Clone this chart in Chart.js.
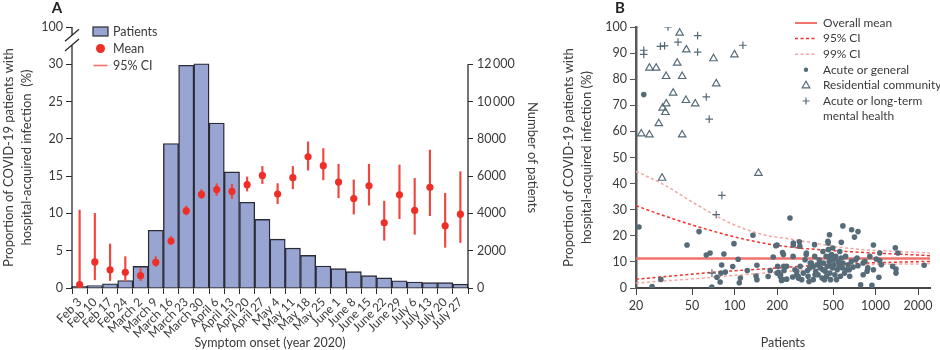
<!DOCTYPE html>
<html>
<head>
<meta charset="utf-8">
<script src="https://cdn.jsdelivr.net/npm/chart.js@4.4.1/dist/chart.umd.min.js"></script>
<style>
  html, body { margin: 0; padding: 0; background: #fff; }
  #wrap { position: relative; width: 940px; height: 350px; }
  .panel { position: absolute; top: 0; height: 350px; }
  #panelA { left: 0; width: 560px; }
  #panelB { left: 560px; width: 380px; }
</style>
</head>
<body>
<div id="wrap">
  <div class="panel" id="panelA"><canvas id="chartA"></canvas></div>
  <div class="panel" id="panelB"><canvas id="chartB"></canvas></div>
</div>
<script>
// ---- panel A data ----
const weeks = ['Feb 3', 'Feb 10', 'Feb 17', 'Feb 24', 'March 2', 'March 9', 'March 16', 'March 23',
  'March 30', 'April 6', 'April 13', 'April 20', 'April 27', 'May 4', 'May 11', 'May 18', 'May 25',
  'June 1', 'June 8', 'June 15', 'June 22', 'June 29', 'July 6', 'July 13', 'July 20', 'July 27'];
const patients = [90, 125, 230, 400, 1160, 3100, 7750, 11950, 12030, 8850, 6230, 4600, 3680, 2620,
  2140, 1750, 1180, 1040, 880, 660, 540, 390, 320, 290, 290, 210];
const meanPct = [0.45, 3.5, 2.45, 2.1, 1.65, 3.45, 6.3, 10.35, 12.55, 13.2, 12.95, 13.85, 15.1, 12.6,
  14.8, 17.6, 16.4, 14.2, 12.0, 13.7, 8.75, 12.5, 10.4, 13.5, 8.35, 9.9];
const ciLow = [0, 1.1, 1.0, 0.9, 1.0, 2.9, 5.8, 9.8, 12.0, 12.4, 12.0, 13.0, 14.0, 11.3, 13.3, 15.8,
  14.5, 12.1, 9.9, 11.1, 6.4, 9.3, 7.2, 9.7, 5.45, 6.1];
const ciHigh = [10.45, 10.0, 5.9, 4.2, 2.6, 4.2, 6.9, 11.0, 13.2, 14.0, 13.9, 14.9, 16.3, 14.0, 16.3,
  19.6, 18.7, 16.6, 14.5, 16.6, 11.65, 16.5, 14.7, 18.5, 12.7, 15.6];
// left axis is broken: the slot above 30 shows 100
const pctTop = 35;
const pctBreak = [32.6, 33.9];
const patientTicksMax = 12000;

// ---- panel B data ----
const overallMean = 11.3;
const ciN = [20, 31.5, 54, 93, 160, 247, 621, 2430];
const ci95Upper = [31.5, 27.7, 23.6, 20.0, 17.2, 15.7, 14.0, 12.4];
const ci95Lower = [3.4, 4.3, 5.5, 6.5, 7.3, 8.0, 9.3, 10.2];
const ci99Upper = [44.7, 39.6, 31.9, 24.9, 20.4, 18.8, 15.3, 13.4];
const ci99Lower = [1.9, 2.7, 3.6, 4.7, 5.7, 6.4, 8.6, 9.3];
const patientTicksB = [20, 50, 100, 200, 500, 1000, 2000];

const acuteGeneral = [[22.7, 74.1], [21, 23.4], [26, 0.6], [30, 3.3], [46, 16.5], [56, 21.6], [63, 12.6],
  [67, 13.4], [69, 0.4], [75, 4.1], [79, 2.3], [80, 5.7], [81, 8.8], [84, 13.0], [86, 6.1], [97, 8.2],
  [99, 17.0], [106, 11.0], [108, 2.0], [110, 3.8], [123, 6.7], [135, 20.2], [142, 4.6], [144, 8.7],
  [144, 3.2], [173, 4.4], [179, 6.7], [188, 11.9], [196, 16.2], [200, 16.5], [200, 5.7], [202, 8.3],
  [205, 6.0], [211, 4.4], [212, 5.1], [215, 2.9], [219, 13.6], [219, 3.2], [222, 12.8], [223, 8.3],
  [224, 6.7], [234, 8.3], [234, 3.4], [247, 26.8], [258, 4.2], [260, 12.1], [261, 17.2], [261, 16.5],
  [268, 7.0], [276, 5.1], [276, 6.4], [283, 3.8], [283, 4.4], [288, 17.7], [290, 16.0], [292, 8.3],
  [299, 3.2], [307, 5.7], [316, 10.8], [322, 12.8], [323, 13.4], [329, 6.7], [332, 4.5], [337, 2.5],
  [341, 7.7], [344, 9.6], [350, 9.6], [361, 3.2], [362, 8.3], [369, 16.6], [370, 12.1], [372, 5.1],
  [376, 6.4], [385, 8.9], [391, 5.1], [398, 10.8], [402, 9.6], [406, 7.7], [417, 3.8], [423, 14.0],
  [423, 7.0], [427, 9.6], [434, 3.2], [439, 6.4], [446, 12.1], [449, 4.5], [454, 8.3], [459, 17.9],
  [461, 17.2], [462, 14.7], [469, 10.2], [471, 20.4], [473, 12.1], [474, 5.7], [479, 3.2], [485, 8.3],
  [487, 12.8], [495, 7.7], [497, 15.3], [500, 10.8], [506, 8.9], [514, 5.1], [522, 12.1], [528, 3.2],
  [534, 7.0], [543, 10.2], [551, 8.3], [557, 14.0], [563, 4.5], [571, 11.5], [571, 17.5], [580, 7.7],
  [586, 9.6], [586, 23.8], [602, 5.7], [612, 12.1], [621, 7.0], [638, 8.9], [650, 7.0], [655, 4.5],
  [673, 10.2], [676, 22.3], [693, 8.0], [708, 19.5], [723, 10.8], [739, 11.5], [750, 21.6], [750, 8.5],
  [783, 1.2], [815, 9.6], [816, 5.1], [839, 10.2], [870, 6.4], [880, 7.7], [910, 12.1], [942, 1.0],
  [965, 16.5], [965, 7.0], [1010, 11.1], [1055, 4.1], [1070, 13.4], [1070, 10.5], [1097, 8.9],
  [1320, 8.3], [1380, 15.4], [1395, 7.3], [1395, 5.7], [1440, 13.4], [2210, 8.7]];
const residential = [[40.8, 97.7], [45.5, 91.3], [39.2, 86.2], [24.9, 84.3], [27.8, 84.3], [70.9, 87.9],
  [99.8, 89.4], [32.7, 81.1], [42.5, 81.1], [74.1, 78.3], [36.7, 74.7], [45.2, 71.9], [52.6, 70.6],
  [32.8, 70.6], [30.9, 69.0], [32.3, 67.3], [29.0, 63.0], [21.8, 59.1], [24.9, 58.7], [42.5, 58.7],
  [30.6, 42.1], [147.6, 44.0]];
const mentalHealth = [[33.7, 100], [54.7, 96.7], [39.7, 94.2], [29.8, 92.6], [31.9, 92.8], [114.6, 93.0],
  [54.7, 90.4], [22.7, 91.1], [22.7, 89.5], [63.0, 73.2], [66.1, 64.7], [81.3, 35.5], [74.1, 28.1],
  [69.1, 5.7]];

const ink = '#3a3a3a';
const barFill = '#98a5d3';
const meanRed = '#ee2f27';
const ciRed = '#f0463f';
const slate = '#566b78';
const fontFamily = 'Lato, sans-serif';

Chart.defaults.font.family = fontFamily;
Chart.defaults.font.size = 12;
Chart.defaults.color = ink;

const toXY = arr => arr.map(p => ({ x: p[0], y: p[1] }));
const curve = vals => ciN.map((n, i) => ({ x: n, y: vals[i] }));
const thousands = v => (v >= 10000 ? String(v).replace(/(\d{3})$/, '\u2009$1') : String(v));

function drawLegend(ctx, items, symX, textX, y0, step, size) {
  ctx.save();
  ctx.font = size + 'px ' + fontFamily;
  ctx.textBaseline = 'middle';
  items.forEach((it, i) => {
    const cy = y0 + i * step;
    ctx.setLineDash([]);
    if (it.kind === 'rect') {
      ctx.fillStyle = barFill;
      ctx.fillRect(symX - 7.5, cy - 4.5, 15, 9);
      ctx.strokeStyle = '#2b2b35';
      ctx.lineWidth = 1.2;
      ctx.strokeRect(symX - 7.5, cy - 4.5, 15, 9);
    } else if (it.kind === 'dot') {
      ctx.fillStyle = it.color;
      ctx.beginPath();
      ctx.arc(symX, cy, it.r, 0, Math.PI * 2);
      ctx.fill();
    } else if (it.kind === 'line') {
      ctx.strokeStyle = it.color;
      ctx.lineWidth = it.width;
      if (it.dash) ctx.setLineDash(it.dash);
      ctx.beginPath();
      ctx.moveTo(symX - it.len / 2, cy);
      ctx.lineTo(symX + it.len / 2, cy);
      ctx.stroke();
    } else if (it.kind === 'triangle') {
      ctx.strokeStyle = slate;
      ctx.lineWidth = 1.2;
      ctx.beginPath();
      ctx.moveTo(symX, cy - 4.2);
      ctx.lineTo(symX + 3.8, cy + 2.4);
      ctx.lineTo(symX - 3.8, cy + 2.4);
      ctx.closePath();
      ctx.stroke();
    } else if (it.kind === 'cross') {
      ctx.strokeStyle = slate;
      ctx.lineWidth = 1.2;
      ctx.beginPath();
      ctx.moveTo(symX - 3.5, cy); ctx.lineTo(symX + 3.5, cy);
      ctx.moveTo(symX, cy - 3.5); ctx.lineTo(symX, cy + 3.5);
      ctx.stroke();
    }
    ctx.fillStyle = ink;
    ctx.fillText(it.text, textX, cy);
  });
  ctx.restore();
}

function panelLetter(ctx, letter, x, y) {
  ctx.save();
  ctx.font = 'bold 15px ' + fontFamily;
  ctx.fillStyle = '#222';
  ctx.textAlign = 'center';
  ctx.textBaseline = 'middle';
  ctx.fillText(letter, x, y);
  ctx.restore();
}

// axis lines for panel A: left one with a break, right one stopping at 12 000
const axesA = {
  id: 'axesA',
  afterDraw(chart) {
    const { ctx, scales: { y, y2 } } = chart;
    const xl = y.right, xr = y2.left;
    const yLo = y.getPixelForValue(pctBreak[0]);
    const yHi = y.getPixelForValue(pctBreak[1]);
    ctx.save();
    ctx.strokeStyle = '#2b2b2b';
    ctx.lineWidth = 1.3;
    ctx.beginPath();
    ctx.moveTo(xl, y.getPixelForValue(0) + 0.6); ctx.lineTo(xl, yLo);
    ctx.moveTo(xl, yHi); ctx.lineTo(xl, y.getPixelForValue(pctTop));
    [yLo, yHi].forEach(py => { ctx.moveTo(xl - 7, py + 6); ctx.lineTo(xl + 7, py - 6); });
    ctx.moveTo(xr, y2.getPixelForValue(0) + 0.6); ctx.lineTo(xr, y2.getPixelForValue(patientTicksMax));
    ctx.stroke();
    ctx.restore();
    drawLegend(ctx, [
      { kind: 'rect', text: 'Patients' },
      { kind: 'dot', color: meanRed, r: 4.5, text: 'Mean' },
      { kind: 'line', color: '#f2706a', width: 1.6, len: 14, text: '95% CI' },
    ], 100.5, 113, 31.5, 17, 12.5);
    panelLetter(ctx, 'A', 57, 8);
  }
};

new Chart(document.getElementById('chartA'), {
  type: 'bar',
  data: {
    labels: weeks,
    datasets: [
      {
        type: 'line', label: 'Mean', data: meanPct, yAxisID: 'y', showLine: false,
        pointRadius: 3.6, pointBackgroundColor: meanRed, pointBorderColor: meanRed, pointBorderWidth: 0, order: 1
      },
      {
        label: '95% CI', data: ciLow.map((lo, i) => [lo, ciHigh[i]]), yAxisID: 'y',
        backgroundColor: ciRed, barThickness: 1.5, grouped: false, order: 2
      },
      {
        label: 'Patients', data: patients, yAxisID: 'y2', backgroundColor: barFill, borderColor: '#2b2b35',
        borderWidth: 1.4, barPercentage: 1, categoryPercentage: 1, grouped: false, order: 3
      }
    ]
  },
  options: {
    responsive: true,
    maintainAspectRatio: false,
    animation: false,
    layout: { padding: { top: 27, right: 20, left: 0, bottom: 0 } },
    plugins: { legend: { display: false }, tooltip: { enabled: false } },
    scales: {
      x: {
        grid: { drawOnChartArea: false, tickLength: 6, color: '#2b2b2b', offset: true },
        border: { display: true, color: '#2b2b2b', width: 1.3 },
        ticks: { minRotation: 45, maxRotation: 45, autoSkip: false, padding: 1 },
        title: { display: true, text: 'Symptom onset (year 2020)', padding: 0, font: { size: 12.5 } },
        afterFit: s => { s.height = 62; }
      },
      y: {
        position: 'left', min: 0, max: pctTop,
        ticks: { stepSize: 5, padding: 3, font: { size: 12.5 }, callback: v => (v === pctTop ? '100' : v) },
        grid: { drawOnChartArea: false, tickLength: 6, color: '#2b2b2b' },
        border: { display: false },
        title: {
          display: true, padding: 0, font: { size: 13, lineHeight: 1.4 },
          text: ['Proportion of COVID-19 patients with', 'hospital-acquired infection  (%)']
        },
        afterFit: s => { s.width = 72; }
      },
      y2: {
        position: 'right', min: 0, max: 14000,
        ticks: { stepSize: 2000, padding: 4, font: { size: 12.5 }, callback: v => thousands(v) },
        afterBuildTicks: s => { s.ticks = s.ticks.filter(t => t.value <= patientTicksMax); },
        grid: { drawOnChartArea: false, tickLength: 5, color: '#2b2b2b' },
        border: { display: false },
        title: { display: true, text: 'Number of patients', padding: 0, font: { size: 13 } },
        afterFit: s => { s.width = 72; }
      }
    }
  },
  plugins: [axesA]
});

const extrasB = {
  id: 'extrasB',
  afterDraw(chart) {
    const ctx = chart.ctx;
    drawLegend(ctx, [
      { kind: 'line', color: '#f2726c', width: 2, len: 22, text: 'Overall mean' },
      { kind: 'line', color: '#f0302a', width: 1.5, len: 22, dash: [3, 2.5], text: '95% CI' },
      { kind: 'line', color: '#f4a6a2', width: 1.5, len: 22, dash: [3, 2.5], text: '99% CI' },
      { kind: 'dot', color: slate, r: 2.2, text: 'Acute or general' },
      { kind: 'triangle', text: 'Residential community' },
      { kind: 'cross', text: 'Acute or long-term' },
      { kind: 'none', text: 'mental health' },
    ], 246, 263, 23, 15.6, 11.9);
    panelLetter(ctx, 'B', 60, 8);
  }
};

const lineSet = (label, data, color, dash, width) => ({
  label, data, showLine: true, borderColor: color, borderWidth: width, borderDash: dash,
  pointRadius: 0, cubicInterpolationMode: 'monotone', order: 5
});

new Chart(document.getElementById('chartB'), {
  type: 'scatter',
  data: {
    datasets: [
      { label: 'Acute or general', data: toXY(acuteGeneral), pointStyle: 'circle', pointRadius: 2.8,
        backgroundColor: slate, borderWidth: 0, order: 1 },
      { label: 'Residential community', data: toXY(residential), pointStyle: 'triangle', pointRadius: 4.3,
        backgroundColor: 'rgba(255,255,255,0)', borderColor: slate, borderWidth: 1.2, order: 1 },
      { label: 'Acute or long-term mental health', data: toXY(mentalHealth), pointStyle: 'cross',
        pointRadius: 3.8, borderColor: slate, borderWidth: 1.2, order: 1 },
      lineSet('Overall mean', [{ x: ciN[0], y: overallMean }, { x: ciN[ciN.length - 1], y: overallMean }], '#f2726c', [], 2.5),
      lineSet('95% CI upper', curve(ci95Upper), '#f0302a', [3, 2.5], 1.5),
      lineSet('95% CI lower', curve(ci95Lower), '#f0302a', [3, 2.5], 1.5),
      lineSet('99% CI upper', curve(ci99Upper), '#f4a6a2', [3, 2.5], 1.5),
      lineSet('99% CI lower', curve(ci99Lower), '#f4a6a2', [3, 2.5], 1.5)
    ]
  },
  options: {
    responsive: true,
    maintainAspectRatio: false,
    animation: false,
    layout: { padding: { top: 27, right: 10, left: 0, bottom: 0 } },
    plugins: { legend: { display: false }, tooltip: { enabled: false } },
    scales: {
      x: {
        type: 'logarithmic', min: 20, max: 2430,
        afterBuildTicks: s => { s.ticks = patientTicksB.map(v => ({ value: v })); },
        ticks: { autoSkip: false, maxRotation: 0, padding: 3, font: { size: 12.5 }, callback: v => String(v) },
        grid: { drawOnChartArea: false, tickLength: 7, color: '#444' },
        border: { display: true, color: '#444', width: 2 },
        title: { display: true, text: 'Patients', padding: 0, font: { size: 12.5 } },
        afterFit: s => { s.height = 62; }
      },
      y: {
        min: 0, max: 100,
        ticks: { stepSize: 10, padding: 3, font: { size: 12.5 } },
        grid: { drawOnChartArea: false, tickLength: 6, color: '#555' },
        border: { display: true, color: '#5a5a5a', width: 2.5 },
        title: {
          display: true, padding: 0, font: { size: 13, lineHeight: 1.4 },
          text: ['Proportion of COVID-19 patients with', 'hospital-acquired infection (%)']
        },
        afterFit: s => { s.width = 76; }
      }
    }
  },
  plugins: [extrasB]
});
</script>
</body>
</html>
